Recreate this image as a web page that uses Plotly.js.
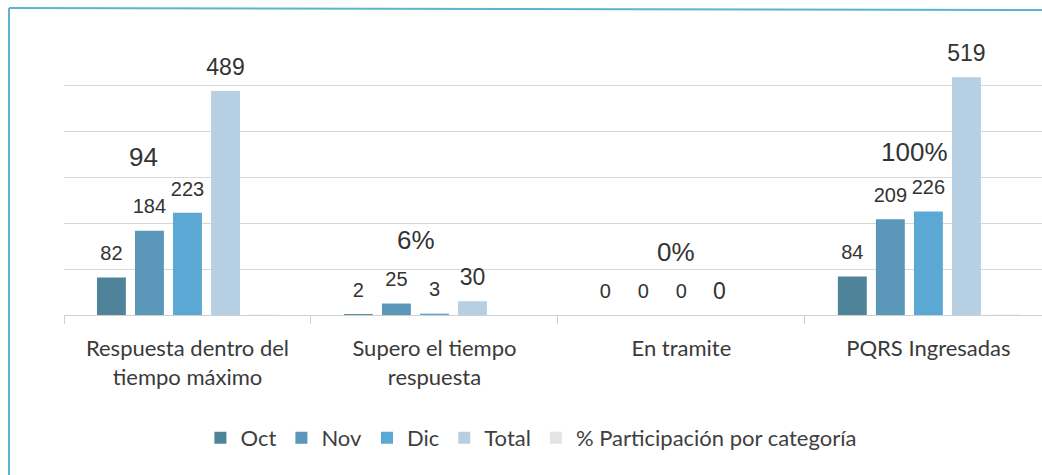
<!DOCTYPE html>
<html>
<head>
<meta charset="utf-8">
<script src="https://cdn.plot.ly/plotly-3.0.1.min.js"></script>
<style>
  html, body { margin: 0; padding: 0; background: #ffffff; }
  #chart { width: 1042px; height: 475px; }
</style>
</head>
<body>
<div id="chart"></div>
<script>
// ---- data ----
const categories = ['Respuesta dentro del<br>tiempo máximo', 'Supero el tiempo<br>respuesta', 'En tramite', 'PQRS Ingresadas'];
const oct = [82, 2, 0, 84];
const nov = [184, 25, 0, 209];
const dic = [223, 3, 0, 226];
const total = [489, 30, 0, 519];
const participacion = [0.94, 0.06, 0, 1.00];
const participacionLabels = ['94', '6%', '0%', '100%'];
const seriesNames = ['Oct', 'Nov', 'Dic', 'Total', '% Participación por categoría'];

// ---- style ----
const colors = ['#4f8399', '#5b97b9', '#5aa8d3', '#b7cfe2', '#e4e4e4'];
const labelSizes = [20, 20, 20, 23, 20];
const markerSizes = [18, 18, 18, 15, 18];
// placement of the hand-positioned % labels (data-y, pixel x shift)
const pctLabelY = [345, 164, 137, 356];
const pctLabelShift = [-44, -18, -5, -14];

const W = 1042, H = 475;
const ml = 64, mr = 0, mt = 40, mb = 160;
const plotW = W - ml - mr, plotH = H - mt - mb;
const px2x = p => (p - ml) / plotW;
const px2y = p => (H - mb - p) / plotH;

const series = [oct, nov, dic, total, participacion];
const traces = [];
series.forEach((vals, i) => {
  traces.push({
    type: 'bar',
    name: seriesNames[i],
    x: categories,
    y: vals,
    marker: { color: colors[i] },
    hoverinfo: 'x+y+name'
  });
});
// data labels (grouped scatter text aligned with bars)
series.forEach((vals, i) => {
  traces.push({
    type: 'scatter',
    mode: 'markers+text',
    x: categories,
    y: vals,
    text: i < 4 ? vals.map(v => String(v)) : vals.map(() => ''),
    textposition: 'top center',
    textfont: { family: 'Arial, Liberation Sans, sans-serif', size: labelSizes[i], color: '#333333' },
    marker: { size: markerSizes[i], color: 'rgba(0,0,0,0)' },
    showlegend: false,
    hoverinfo: 'skip',
    cliponaxis: false
  });
});

const annotations = participacionLabels.map((t, i) => ({
  x: categories[i], y: pctLabelY[i], xref: 'x', yref: 'y',
  xshift: pctLabelShift[i],
  text: t, showarrow: false,
  font: { family: 'Arial, Liberation Sans, sans-serif', size: 26, color: '#333333' }
}));

const shapes = [
  { type: 'line', xref: 'paper', yref: 'paper', x0: px2x(9), x1: px2x(9), y0: px2y(8), y1: px2y(476),
    line: { color: '#5db3d3', width: 2 } },
  { type: 'line', xref: 'paper', yref: 'paper', x0: px2x(9), x1: px2x(1043), y0: px2y(8), y1: px2y(10),
    line: { color: '#5db3d3', width: 2 } }
];

const layout = {
  width: W, height: H,
  margin: { l: ml, r: mr, t: mt, b: mb, pad: 0 },
  paper_bgcolor: '#ffffff', plot_bgcolor: '#ffffff',
  barmode: 'group', bargap: 0.23, bargroupgap: 0.24,
  scattermode: 'group', scattergap: 0.23,
  showlegend: true,
  legend: {
    orientation: 'h', xref: 'container', yref: 'container',
    x: 0.51, xanchor: 'center', y: 1 - 438 / H, yanchor: 'middle',
    font: { family: 'Lato, sans-serif', size: 22, color: '#404040' },
    traceorder: 'normal', itemclick: false
  },
  xaxis: {
    type: 'category', range: [-0.5, 3.46],
    showgrid: false, showline: true, linecolor: '#d0d0d0', linewidth: 1,
    ticks: 'outside', tickson: 'boundaries', ticklen: 8, tickcolor: '#d0d0d0',
    ticklabelstandoff: 14,
    tickfont: { family: 'Lato, sans-serif', size: 22, color: '#3a3a3a' },
    fixedrange: true
  },
  yaxis: {
    range: [0, 600], dtick: 100, showticklabels: false,
    showgrid: true, gridcolor: '#d8d8d8', gridwidth: 1,
    zeroline: false, showline: false, fixedrange: true
  },
  annotations: annotations,
  shapes: shapes,
  font: { family: 'Lato, sans-serif', color: '#404040' }
};

Plotly.newPlot('chart', traces, layout, { displayModeBar: false, staticPlot: true });
</script>
</body>
</html>
